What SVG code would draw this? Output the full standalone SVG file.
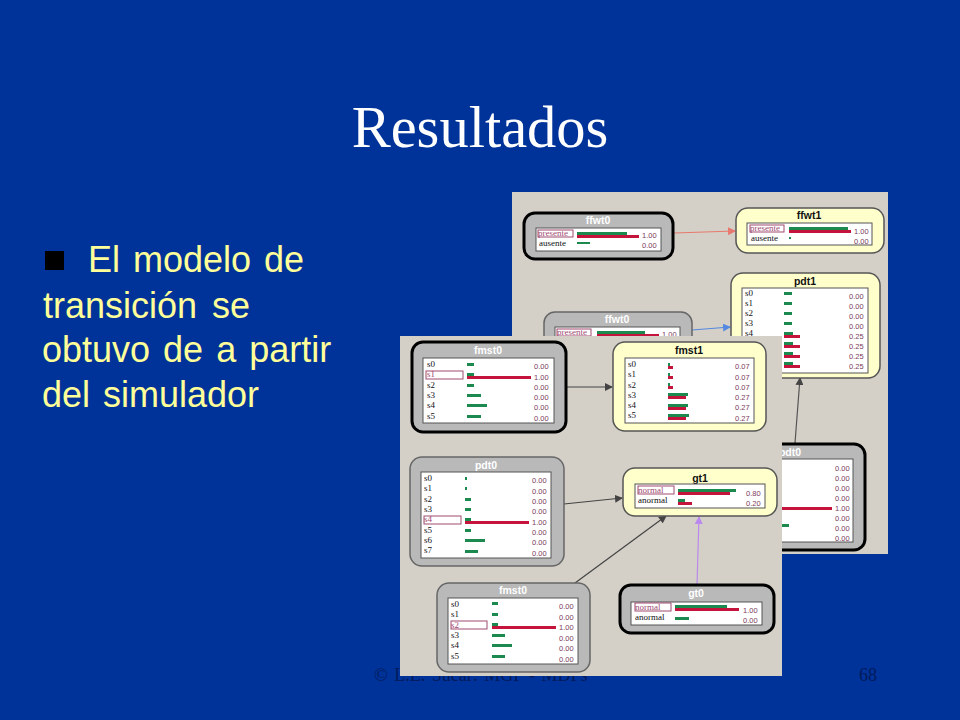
<svg xmlns="http://www.w3.org/2000/svg" width="960" height="720" viewBox="0 0 960 720">
<style>
.title{font-family:"Liberation Serif",serif;font-size:58.5px;fill:#fff;text-anchor:middle}
.body{font-family:"Liberation Sans",Arial,sans-serif;font-size:36px;fill:#ffff99;word-spacing:3px}
.foot{font-family:"Liberation Serif",serif;font-size:18px;fill:#001a5c}
.panel{fill:#d4d0c8}
.evid{fill:#b9b9b9;stroke:#000;stroke-width:3}
.hidn{fill:#b9b9b9;stroke:#666;stroke-width:1.5}
.post{fill:#ffffcc;stroke:#555;stroke-width:1.5}
.inner{fill:#fff;stroke:#555;stroke-width:1}
.nw{font-family:"Liberation Sans",Arial,sans-serif;font-size:10.5px;font-weight:bold;fill:#fff;text-anchor:middle}
.nb{font-family:"Liberation Sans",Arial,sans-serif;font-size:10.5px;font-weight:bold;fill:#111;text-anchor:middle}
.l{font-family:"Liberation Serif",serif;font-size:9px;fill:#111}
.p{font-family:"Liberation Serif",serif;font-size:9px;fill:#a04a70}
.v{font-family:"Liberation Sans",Arial,sans-serif;font-size:7.5px;fill:#7a3a5a}
.sel{fill:#fff;stroke:#a04a70;stroke-width:1}
.g{fill:#1c8a4e}
.r{fill:#c4143c}
.c{fill:none;stroke-width:1.2}
</style>
<defs>
<marker id="aSalmon" markerWidth="8" markerHeight="8" refX="7" refY="4" orient="auto" markerUnits="userSpaceOnUse"><path d="M0 0L8 4L0 8Z" fill="#e8796e"/></marker>
<marker id="aBlue" markerWidth="8" markerHeight="8" refX="7" refY="4" orient="auto" markerUnits="userSpaceOnUse"><path d="M0 0L8 4L0 8Z" fill="#5588e0"/></marker>
<marker id="aDark" markerWidth="8" markerHeight="8" refX="7" refY="4" orient="auto" markerUnits="userSpaceOnUse"><path d="M0 0L8 4L0 8Z" fill="#444"/></marker>
<marker id="aPurple" markerWidth="8" markerHeight="8" refX="7" refY="4" orient="auto" markerUnits="userSpaceOnUse"><path d="M0 0L8 4L0 8Z" fill="#bb88ee"/></marker>
</defs>
<rect width="960" height="720" fill="#003399"/>
<text class="title" x="480" y="147">Resultados</text>
<rect x="45" y="251" width="19" height="19" fill="#000"/>
<text class="body" x="88" y="272">El modelo de</text>
<text class="body" x="43" y="318" style="word-spacing:5px">transición se</text>
<text class="body" x="42" y="362">obtuvo de a partir</text>
<text class="body" x="42" y="407">del simulador</text>
<text class="foot" x="374" y="681" style="word-spacing:2px">© L.E. Sucar: MGP - MDPs</text>
<text class="foot" x="859" y="681">68</text>

<rect class="panel" x="512" y="192" width="376" height="362"/>
<g id="connectors-back">
<path class="c" d="M674 233L735 231" stroke="#e8796e" marker-end="url(#aSalmon)"/>
<path class="c" d="M692 330L730 327" stroke="#5588e0" marker-end="url(#aBlue)"/>
<path class="c" d="M795 443L800 378" stroke="#555" marker-end="url(#aDark)"/>
</g>
<g id="ffwt0-back">
<rect class="evid" x="524" y="213" width="149" height="46" rx="11"/>
<text class="nw" x="598" y="224">ffwt0</text>
<rect class="inner" x="536" y="228" width="125" height="23"/>
<rect class="sel" x="538" y="230" width="35" height="7"/>
<text class="p" x="538" y="236">presente</text><text class="l" x="539" y="246">ausente</text>
<rect class="g" x="577" y="232" width="50" height="4"/><rect class="r" x="577" y="235" width="62" height="3"/><rect class="g" x="577" y="242" width="13" height="2"/>
<text class="v" x="642" y="238">1.00</text><text class="v" x="642" y="248">0.00</text>
</g>
<g id="ffwt1">
<rect class="post" x="736" y="208" width="148" height="45" rx="12"/>
<text class="nb" x="809" y="219">ffwt1</text>
<rect class="inner" x="747" y="223" width="125" height="22"/>
<rect class="sel" x="750" y="225" width="34" height="7"/>
<text class="p" x="750" y="231">presente</text><text class="l" x="751" y="241">ausente</text>
<rect class="g" x="789" y="227" width="59" height="4"/><rect class="r" x="789" y="230" width="62" height="3"/><rect class="g" x="789" y="237" width="2" height="2"/>
<text class="v" x="854" y="234">1.00</text><text class="v" x="854" y="244">0.00</text>
</g>
<g id="pdt1">
<rect class="post" x="731" y="273" width="149" height="105" rx="12"/>
<text class="nb" x="805" y="285">pdt1</text>
<rect class="inner" x="742" y="288" width="126" height="85"/>
<text class="l" x="745" y="296">s0</text><text class="l" x="745" y="306">s1</text><text class="l" x="745" y="316">s2</text><text class="l" x="745" y="326">s3</text><text class="l" x="745" y="336">s4</text>
<rect class="g" x="784" y="292" width="8" height="3"/><rect class="g" x="784" y="302" width="8" height="3"/><rect class="g" x="784" y="312" width="8" height="3"/><rect class="g" x="784" y="322" width="8" height="3"/>
<rect class="g" x="784" y="332" width="9" height="4"/><rect class="r" x="784" y="335" width="16" height="3"/>
<rect class="g" x="784" y="342" width="9" height="4"/><rect class="r" x="784" y="345" width="16" height="3"/>
<rect class="g" x="784" y="352" width="9" height="4"/><rect class="r" x="784" y="355" width="16" height="3"/>
<rect class="g" x="784" y="362" width="9" height="4"/><rect class="r" x="784" y="365" width="16" height="3"/>
<text class="v" x="849" y="299">0.00</text><text class="v" x="849" y="309">0.00</text><text class="v" x="849" y="319">0.00</text><text class="v" x="849" y="329">0.00</text><text class="v" x="849" y="339">0.25</text><text class="v" x="849" y="349">0.25</text><text class="v" x="849" y="359">0.25</text><text class="v" x="849" y="369">0.25</text>
</g>
<g id="ffwt0-mid">
<rect class="hidn" x="544" y="312" width="148" height="47" rx="11"/>
<text class="nw" x="617" y="323">ffwt0</text>
<rect class="inner" x="555" y="327" width="125" height="23"/>
<rect class="sel" x="557" y="329" width="34" height="7"/>
<text class="p" x="557" y="335">presente</text>
<rect class="g" x="597" y="331" width="48" height="4"/><rect class="r" x="597" y="334" width="62" height="3"/>
<text class="v" x="662" y="337">1.00</text>
</g>
<g id="pdt0-back">
<rect class="evid" x="716" y="444" width="149" height="106" rx="11"/>
<text class="nw" x="790" y="456">pdt0</text>
<rect class="inner" x="728" y="459" width="125" height="83"/>
<rect class="r" x="768" y="507" width="64" height="3"/><rect class="g" x="770" y="524" width="19" height="3"/>
<text class="v" x="835" y="471">0.00</text><text class="v" x="835" y="481">0.00</text><text class="v" x="835" y="491">0.00</text><text class="v" x="835" y="501">0.00</text><text class="v" x="835" y="511">1.00</text><text class="v" x="835" y="521">0.00</text><text class="v" x="835" y="531">0.00</text><text class="v" x="835" y="541">0.00</text>
</g>

<rect class="panel" x="400" y="336" width="382" height="340"/>
<g id="connectors-front">
<path class="c" d="M566 387L612 387" stroke="#444" marker-end="url(#aDark)"/>
<path class="c" d="M564 504L622 498" stroke="#444" marker-end="url(#aDark)"/>
<path class="c" d="M575 583L666 516" stroke="#444" marker-end="url(#aDark)"/>
<path class="c" d="M697 585L699 517" stroke="#bb88ee" marker-end="url(#aPurple)"/>
</g>
<g id="fmst0-top">
<rect class="evid" x="412" y="342" width="154" height="90" rx="11"/>
<text class="nw" x="488" y="354">fmst0</text>
<rect class="inner" x="423" y="358" width="131" height="65"/>
<rect class="sel" x="426" y="371" width="37" height="8"/>
<text class="l" x="427" y="367">s0</text><text class="p" x="427" y="377">s1</text><text class="l" x="427" y="388">s2</text><text class="l" x="427" y="398">s3</text><text class="l" x="427" y="408">s4</text><text class="l" x="427" y="419">s5</text>
<rect class="g" x="467" y="363" width="7" height="3"/><rect class="g" x="467" y="373" width="7" height="4"/><rect class="r" x="467" y="376" width="64" height="3"/><rect class="g" x="467" y="384" width="7" height="3"/><rect class="g" x="467" y="394" width="14" height="3"/><rect class="g" x="467" y="404" width="20" height="3"/><rect class="g" x="467" y="415" width="14" height="3"/>
<text class="v" x="534" y="369">0.00</text><text class="v" x="534" y="380">1.00</text><text class="v" x="534" y="390">0.00</text><text class="v" x="534" y="400">0.00</text><text class="v" x="534" y="410">0.00</text><text class="v" x="534" y="421">0.00</text>
</g>
<g id="fmst1">
<rect class="post" x="613" y="342" width="153" height="89" rx="12"/>
<text class="nb" x="689" y="354">fmst1</text>
<rect class="inner" x="625" y="358" width="129" height="65"/>
<text class="l" x="628" y="367">s0</text><text class="l" x="628" y="377">s1</text><text class="l" x="628" y="388">s2</text><text class="l" x="628" y="398">s3</text><text class="l" x="628" y="408">s4</text><text class="l" x="628" y="418">s5</text>
<rect class="g" x="668" y="363" width="2" height="4"/><rect class="r" x="668" y="366" width="5" height="3"/><rect class="g" x="668" y="373" width="2" height="4"/><rect class="r" x="668" y="376" width="5" height="3"/><rect class="g" x="668" y="383" width="2" height="4"/><rect class="r" x="668" y="386" width="5" height="3"/>
<rect class="g" x="668" y="393" width="20" height="3"/><rect class="r" x="668" y="396" width="18" height="3"/><rect class="g" x="668" y="404" width="20" height="3"/><rect class="r" x="668" y="407" width="18" height="3"/><rect class="g" x="668" y="414" width="21" height="3"/><rect class="r" x="668" y="417" width="18" height="3"/>
<text class="v" x="735" y="369">0.07</text><text class="v" x="735" y="380">0.07</text><text class="v" x="735" y="390">0.07</text><text class="v" x="735" y="400">0.27</text><text class="v" x="735" y="410">0.27</text><text class="v" x="735" y="421">0.27</text>
</g>
<g id="pdt0">
<rect class="hidn" x="410" y="457" width="154" height="109" rx="12"/>
<text class="nw" x="486" y="469">pdt0</text>
<rect class="inner" x="421" y="472" width="130" height="86"/>
<rect class="sel" x="424" y="516" width="37" height="8"/>
<text class="l" x="424" y="481">s0</text><text class="l" x="424" y="491">s1</text><text class="l" x="424" y="502">s2</text><text class="l" x="424" y="512">s3</text><text class="p" x="424" y="522">s4</text><text class="l" x="424" y="533">s5</text><text class="l" x="424" y="543">s6</text><text class="l" x="424" y="553">s7</text>
<rect class="g" x="465" y="477" width="2" height="3"/><rect class="g" x="465" y="487" width="2" height="3"/><rect class="g" x="465" y="498" width="6" height="3"/><rect class="g" x="465" y="508" width="6" height="3"/><rect class="g" x="465" y="518" width="6" height="4"/><rect class="r" x="465" y="521" width="64" height="3"/><rect class="g" x="465" y="529" width="6" height="3"/><rect class="g" x="465" y="539" width="20" height="3"/><rect class="g" x="465" y="550" width="13" height="3"/>
<text class="v" x="532" y="483">0.00</text><text class="v" x="532" y="494">0.00</text><text class="v" x="532" y="504">0.00</text><text class="v" x="532" y="514">0.00</text><text class="v" x="532" y="525">1.00</text><text class="v" x="532" y="535">0.00</text><text class="v" x="532" y="545">0.00</text><text class="v" x="532" y="556">0.00</text>
</g>
<g id="gt1">
<rect class="post" x="623" y="468" width="154" height="48" rx="12"/>
<text class="nb" x="700" y="482">gt1</text>
<rect class="inner" x="635" y="484" width="130" height="24"/>
<rect class="sel" x="638" y="486" width="36" height="8"/>
<text class="p" x="638" y="493">normal</text><text class="l" x="638" y="503">anormal</text>
<rect class="g" x="678" y="489" width="58" height="3"/><rect class="r" x="678" y="492" width="52" height="3"/><rect class="g" x="678" y="499" width="7" height="3"/><rect class="r" x="678" y="502" width="14" height="3"/>
<text class="v" x="746" y="496">0.80</text><text class="v" x="746" y="506">0.20</text>
</g>
<g id="fmst0-bottom">
<rect class="hidn" x="437" y="583" width="153" height="89" rx="12"/>
<text class="nw" x="513" y="594">fmst0</text>
<rect class="inner" x="448" y="598" width="130" height="66"/>
<rect class="sel" x="451" y="621" width="36" height="8"/>
<text class="l" x="451" y="607">s0</text><text class="l" x="451" y="617">s1</text><text class="p" x="451" y="628">s2</text><text class="l" x="451" y="638">s3</text><text class="l" x="451" y="648">s4</text><text class="l" x="451" y="659">s5</text>
<rect class="g" x="492" y="602" width="6" height="3"/><rect class="g" x="492" y="613" width="6" height="3"/><rect class="g" x="492" y="623" width="6" height="4"/><rect class="r" x="492" y="626" width="64" height="3"/><rect class="g" x="492" y="634" width="13" height="3"/><rect class="g" x="492" y="644" width="20" height="3"/><rect class="g" x="492" y="655" width="13" height="3"/>
<text class="v" x="559" y="609">0.00</text><text class="v" x="559" y="620">0.00</text><text class="v" x="559" y="630">1.00</text><text class="v" x="559" y="641">0.00</text><text class="v" x="559" y="651">0.00</text><text class="v" x="559" y="662">0.00</text>
</g>
<g id="gt0">
<rect class="evid" x="620" y="585" width="154" height="48" rx="11"/>
<text class="nw" x="696" y="597">gt0</text>
<rect class="inner" x="631" y="602" width="131" height="23"/>
<rect class="sel" x="635" y="603" width="36" height="8"/>
<text class="p" x="635" y="610">normal</text><text class="l" x="635" y="620">anormal</text>
<rect class="g" x="675" y="605" width="52" height="4"/><rect class="r" x="675" y="608" width="64" height="3"/><rect class="g" x="675" y="617" width="14" height="3"/>
<text class="v" x="743" y="613">1.00</text><text class="v" x="743" y="623">0.00</text>
</g>
</svg>
